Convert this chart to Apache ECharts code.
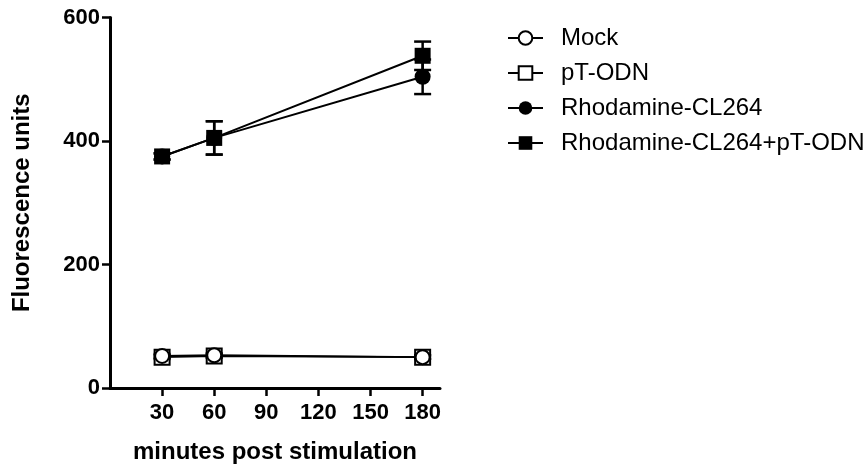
<!DOCTYPE html>
<html><head><meta charset="utf-8">
<script src="https://cdn.jsdelivr.net/npm/echarts@6/dist/echarts.min.js"></script>
<style>html,body{margin:0;padding:0;background:#fff}#c{width:867px;height:465px}</style>
</head><body><div id="c"></div>
<script>
var times = [30, 60, 180];
var xTicks = [30, 60, 90, 120, 150, 180];
var yTicks = [0, 200, 400, 600];
var seriesNames = ['Mock', 'pT-ODN', 'Rhodamine-CL264', 'Rhodamine-CL264+pT-ODN'];
var mockVals = [52, 53, 50];
var mockErr = [3, 3, 3];
var ptVals = [50, 52, 50];
var ptErr = [3, 3, 3];
var rhoVals = [375, 405, 504];
var rhoErr = [5, 27, 28];
var rhoPtVals = [375, 405, 538];
var rhoPtErr = [5, 27, 23];

function pts(v){ return times.map(function(t,i){ return [t, v[i]]; }); }
function errData(v,e){ return times.map(function(t,i){ return [t, v[i]-e[i], v[i]+e[i]]; }); }

function errSeries(v,e,z){
  return {
    type:'custom', z:z, silent:true,
    data: errData(v,e),
    renderItem: function(params, api){
      var x = api.value(0);
      var lo = api.coord([x, api.value(1)]);
      var hi = api.coord([x, api.value(2)]);
      var hw = 8.5;
      var st = {stroke:'#000', lineWidth:2.5};
      return {type:'group', children:[
        {type:'line', shape:{x1:lo[0],y1:lo[1],x2:hi[0],y2:hi[1]}, style:st},
        {type:'line', shape:{x1:lo[0]-hw,y1:lo[1],x2:lo[0]+hw,y2:lo[1]}, style:st},
        {type:'line', shape:{x1:hi[0]-hw,y1:hi[1],x2:hi[0]+hw,y2:hi[1]}, style:st}
      ]};
    }
  };
}

var font = 'Liberation Sans, Arial, sans-serif';
var chart = echarts.init(document.getElementById('c'));
chart.setOption({
  animation:false,
  backgroundColor:'#fff',
  grid:{left:110, right:427, top:17.5, bottom:77, containLabel:false, outerBoundsMode:'none'},
  legend:{
    orient:'vertical', left:502, top:21, itemWidth:35, itemHeight:17, itemGap:11,
    data: seriesNames,
    textStyle:{fontFamily:font, fontSize:24, color:'#000', padding:[0,0,0,13]}
  },
  xAxis:{
    type:'value', min:0, max:190,
    name:'minutes post stimulation', nameLocation:'middle', nameGap:52,
    nameTextStyle:{fontFamily:font, fontSize:24, fontWeight:'bold', color:'#000'},
    axisLine:{lineStyle:{color:'#000', width:3}},
    axisTick:{show:true, length:8, lineStyle:{color:'#000', width:2.5}, customValues:xTicks},
    axisLabel:{fontFamily:font, fontSize:22, fontWeight:'bold', color:'#000', margin:14, customValues:xTicks},
    splitLine:{show:false}
  },
  yAxis:{
    type:'value', min:0, max:600, interval:200,
    name:'Fluorescence units', nameLocation:'middle', nameGap:76,
    nameTextStyle:{fontFamily:font, fontSize:24, fontWeight:'bold', color:'#000'},
    axisLine:{show:true, lineStyle:{color:'#000', width:3}},
    axisTick:{show:true, length:8, lineStyle:{color:'#000', width:2.5}},
    axisLabel:{fontFamily:font, fontSize:22, fontWeight:'bold', color:'#000', margin:10},
    splitLine:{show:false}
  },
  series:[
    {name:seriesNames[0], type:'line', z:5, data:pts(mockVals), symbol:'emptyCircle', symbolSize:14,
      itemStyle:{color:'#000', borderWidth:2.5}, lineStyle:{color:'#000', width:2}},
    {name:seriesNames[1], type:'line', z:4, data:pts(ptVals), symbol:'emptyRect', symbolSize:15,
      itemStyle:{color:'#000', borderWidth:2.5}, lineStyle:{color:'#000', width:2}},
    {name:seriesNames[2], type:'line', z:4, data:pts(rhoVals), symbol:'circle', symbolSize:16,
      itemStyle:{color:'#000'}, lineStyle:{color:'#000', width:2}},
    {name:seriesNames[3], type:'line', z:5, data:pts(rhoPtVals), symbol:'rect', symbolSize:16,
      itemStyle:{color:'#000'}, lineStyle:{color:'#000', width:2}},
    errSeries(mockVals, mockErr, 1),
    errSeries(ptVals, ptErr, 1),
    errSeries(rhoVals, rhoErr, 1),
    errSeries(rhoPtVals, rhoPtErr, 1)
  ]
});
</script></body></html>
